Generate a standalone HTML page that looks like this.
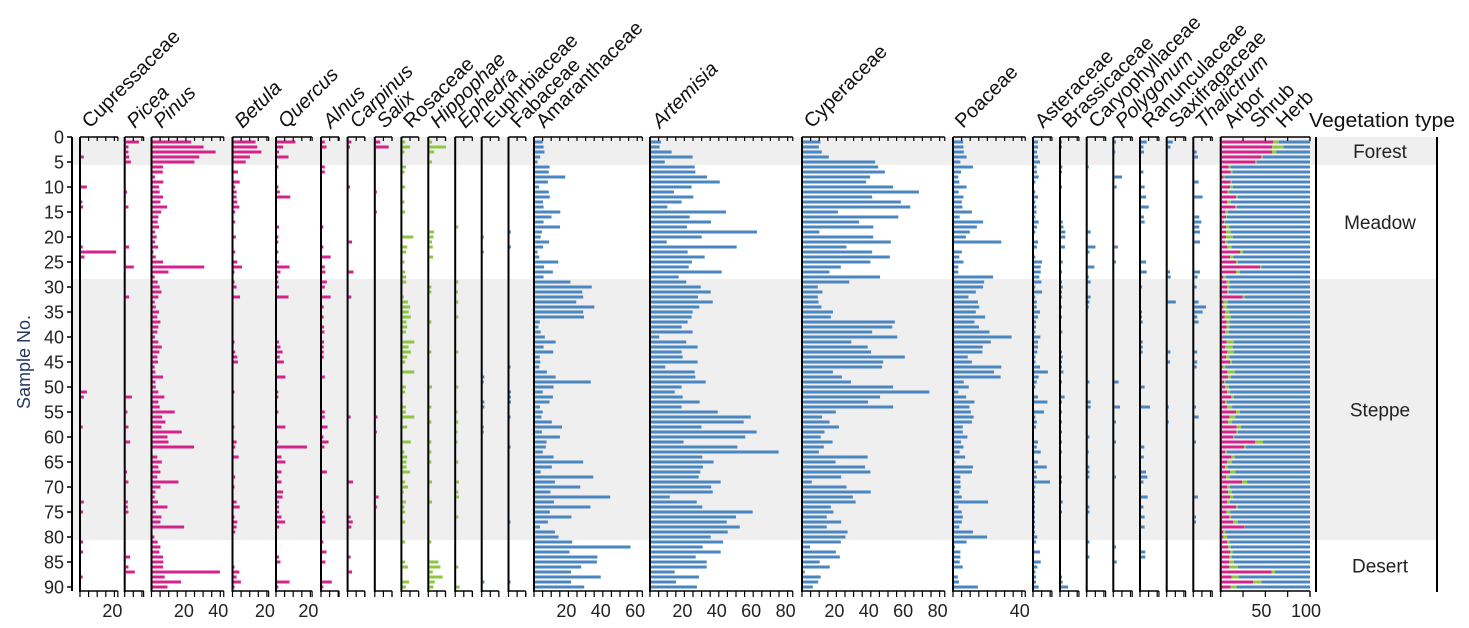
<!DOCTYPE html>
<html><head><meta charset="utf-8"><style>
html,body{margin:0;padding:0;background:#fff;}
svg{display:block;font-family:"Liberation Sans",Arial,sans-serif;}
</style></head><body>
<svg id="chart" width="1469" height="628" viewBox="0 0 1469 628" xmlns="http://www.w3.org/2000/svg">
<g id="bands"></g><g id="marks"></g><g id="axes"></g><g id="labels"></g>
</svg>
<script>
// ---- data (percentages per sample, sample index 0..89) ----
const sampleTicks=[0,5,10,15,20,25,30,35,40,45,50,55,60,65,70,75,80,85,90];
const zoneNames=["Forest","Meadow","Steppe","Desert"];
const zoneStart=[0,5.6,28.4,80.6];
const zoneEnd=[5.6,28.4,80.6,91];
const pinus=[22.5,29.7,36.7,27.2,24.4,6.1,6,1.5,6.3,3.8,4.2,6.1,4.6,8.5,5,3.4,3,3.8,1.5,2.4,1.5,3.2,0.5,1.9,6.1,30.1,9.3,1.3,3,4.2,5.2,3.4,1.3,1.9,3.8,2.8,4.6,3.4,2.8,1.5,3.4,5.4,4,2.8,3.2,1.3,1.7,6.1,1.7,1.9,3.4,6.9,3.4,4.2,12.9,5.6,7.5,5.2,17,8.7,9.3,24.2,0,2.8,5.4,3.4,4.6,2.8,15.1,4.6,1.7,1.3,3.2,8.7,1.9,5.2,4.6,18.4,0,1.1,3,4.6,4,6.1,6.3,6.1,39.2,7.1,16.6,8.7];
const amaranthaceae=[4.5,5,5.5,3,1.5,8.5,8,17.6,7.5,2.4,8,8.6,4.7,5,14.7,9.6,5,14.5,4,3.3,8.2,4.7,1.5,2.5,13.5,5.3,10.4,5,20.6,33,27.5,28,24,34.5,28,28.5,2.8,2,3.3,5.7,12,5,10.6,2.8,3.1,2.5,6.9,12,32.4,10.8,4.5,10.4,8.4,2.9,4.5,3.7,9.8,15.7,4,14.5,6.7,6.3,4.5,10.8,28,9.8,3.3,33.9,11.6,26.3,9,43.7,11,32.2,8.6,21.2,7.5,2.9,11.6,13.7,21.6,55.5,20,36.3,36,26.9,21,38.2,21,28.6];
const artemisia=[5.8,5,12,24.2,8,25.4,25.8,32.6,40,23.6,13.4,24.6,17.8,9.5,43.6,22.5,34.9,20.9,61.6,29.5,9.1,49.8,21.3,31.2,23.8,21.9,41.1,16.1,20.5,28.9,34.7,27.3,35.9,28.1,24.2,23.6,21.3,17.8,24.2,4.8,20.5,27.1,17.8,18.4,27.1,8.3,25.4,25.8,31.8,17.8,13.8,18.4,28.3,17.8,38.8,58,53.9,29.3,61.4,54.8,18.9,50.2,74.2,29.8,36.4,30.2,28.7,27.7,40.5,35,35.9,10.9,26.6,29.8,59.1,49.4,44,51.6,44.6,34.7,41.9,30,40.5,26,32.4,32.4,13.8,27.9,14.5,26.7];
const cyperaceae=[10.1,9.2,10.9,15,41.9,43.7,47.6,39,36.7,52.4,67.4,40.2,56.9,62.4,20.3,55.4,32.6,40.9,9.5,40.8,51.1,25.3,40.2,50.5,39.2,22,15.4,44.8,26.9,8.6,11.3,8.6,9,10.7,17.4,16.2,53.4,51.9,40.2,54.8,28.1,37.6,39.6,59.2,46.6,46,17.4,22.6,27.9,52.4,73.5,44.8,37.8,52.4,19.1,11.1,15.4,20.9,12.5,10.3,17.2,12.1,9.2,37.6,18.9,36.1,39.2,22.2,5.1,25.3,39.4,29,30.6,16.2,17.7,13.8,22.2,13.8,25.9,24.7,22,4.1,19.1,21.4,9.7,15.6,1,10.3,8.8,5.7];
const poaceae=[5.3,5.5,5.7,7.3,3.7,11,4.1,2.5,3.1,7.3,2.7,5.5,4.5,4.9,10.4,3.3,16.9,13.3,9.2,6.9,27.5,0,4.5,3.1,5.5,2.5,2.5,22.7,17.5,16.9,12.7,8.4,13.9,14.7,12.7,18.1,11.9,14.5,20.6,33.5,21.4,16.7,16.5,8,10.4,27.5,23.3,27.1,5.7,8.6,2.5,7.1,11.9,9,9.8,11.4,10.4,5.1,5.1,7.8,4.1,5.5,3.3,6.5,0.8,11,10.4,3.7,3.7,3.9,3.1,4.5,19.8,2.5,4.5,5.1,4.5,3.1,11,19.2,7.3,0.6,3.7,3.7,3.3,5.1,0,2.2,2.9,13.9];
const arbor=[57.8,56.3,56.3,44.4,37.7,7.8,10,2.2,10,9.3,6.7,16,6.3,15.3,4.1,4.9,2.6,4.9,4.9,4.9,4.1,6.3,20.5,9.3,16,42.9,16,1.9,5.6,6.3,6.3,23.5,2.2,1.9,4.1,3.4,5.6,5.6,4.1,1.1,5.6,4.1,6.3,4.9,9.3,1.1,6.3,7.1,2.6,3.7,6,10.8,3.7,6,16,8.6,7.1,16.8,16.4,13,37.3,25,3.7,10.8,6,3.7,9.3,4.9,22.8,6.3,7.1,9.3,6,16,5.2,8.6,13,25.7,1.9,1.9,6,7.1,9.7,8.6,8.6,8.6,56,11.2,35.4,10];
const shrub=[6,13,5,1.5,1.5,2.2,2.2,1,1.5,3,1.5,2.2,3.7,1.5,3,0.7,0.7,3.7,5.2,7.5,2.2,4.9,3,3.7,2.2,1.5,4.5,3,3,2.2,1.5,2.2,4.5,3.7,4.5,6.7,3,3,3.7,0,7.8,8.2,7.5,3.7,2.2,3,8.2,3,1.5,4.1,3.4,3,2.2,5.6,4.5,6.7,4.5,4.9,1.9,1.1,9,1.9,1.9,3.7,5.6,3,6,4.1,5.6,3,4.1,3.4,3,1.9,4.5,1.9,5.2,0.4,2.2,4.1,2.6,3,2.6,2.6,4.9,9.7,3.7,7.8,9,6.7];
const cupressaceae={3:1.6,9:3.4,12:0.8,13:1.2,21:1,22:20.4,23:2,50:3.4,51:1.6,57:1,72:1.6,74:1.2,80:1.2,82:1.2,87:1};
const picea={0:7.7,1:1.6,2:1.6,3:2,4:3,10:0.8,13:1.6,21:2,25:4.7,31:2,51:3.6,54:1,57:1.6,60:2.6,66:0.8,68:1.6,72:1.2,73:1.2,74:1.6,83:2.6,85:1.6,86:5.3};
const betula={0:12.8,1:13.8,2:16.2,3:9.5,4:7.1,6:2.6,8:3.6,9:1,10:1.8,11:1.8,12:2.2,13:3.4,14:1,16:1,19:1.4,22:1,24:2.2,25:4.9,26:0.4,28:0.4,29:1.8,31:3.8,40:0.6,42:1,43:2.2,44:2.6,50:0.6,57:0.6,60:1.8,61:1,63:3,67:1,69:0.6,72:1.8,73:3.6,75:0.6,76:2.2,77:1.8,78:1,85:0.6,86:3.4,87:1.8,88:4.3,89:0.6};
const quercus={0:10.7,1:3.6,2:1.2,3:6.7,5:0.8,9:0.8,10:1.6,11:7.7,17:1.2,19:0.8,20:0.8,22:0.8,24:1.2,25:7.3,26:2,27:0.8,28:0.8,29:1.2,31:6.7,40:1.2,41:2,42:3.2,43:1.6,44:4,47:4.9,50:0.8,51:0.8,54:0.8,57:4.9,60:0.8,61:17.4,63:2.6,64:4.9,66:2.6,67:0.8,68:2.6,70:3.6,71:3.2,72:1.2,73:1.2,74:1.2,75:2.6,76:4.7,77:1.2,83:1.2,84:2,88:7.3,89:0.8};
const alnus={0:1.6,1:2.6,5:1.6,6:1.6,17:0.8,21:0.8,23:5,25:1.6,26:2,28:2.8,29:1.6,31:5,33:1,35:1,37:1.2,38:1.4,40:1.2,41:1,42:1,43:1,47:1.6,54:1.6,55:1.6,57:3.2,59:0.8,60:3.8,61:1.4,66:2.8,74:0.8,75:1.6,76:2,80:0.8,82:2.6,84:2,88:5.7,89:0.8};
const carpinus={0:1.6,1:0.8,9:0.8,20:2,26:2.8,31:1.6,55:1.2,68:2.6,75:1.2,76:2.4,77:1.6,83:1.2,86:2};
const salix={0:2.6,1:7.5,10:0.6,14:0.6,55:1,58:0.6,71:1.6,73:0.6};
const rosaceae={0:1.6,1:4.5,2:1.2,5:2,6:1.2,9:1.6,12:1.2,14:1.6,19:6.3,21:2.8,22:2.2,24:1.2,26:1.6,27:2.2,28:2.2,31:0.8,32:3.2,33:4.5,34:3.6,35:4.9,36:2.4,37:2.8,38:2,40:6.9,41:3.6,42:4.9,43:2.8,44:1.6,46:6.9,49:2,50:1.6,53:2,54:2,55:6.9,57:2.8,60:4.9,62:1.2,63:2.8,64:2.4,65:2.4,66:4.5,68:1.6,69:3.2,70:0.8,72:2,73:1.2,74:1.6,76:1.6,80:1.6,84:1.6,85:3.2,88:3.8,89:2};
const hippophae={0:1.6,1:9.7,2:2.8,4:1.6,18:2.8,19:2.4,20:1.6,21:2,23:2.2,29:1.2,30:1.2,36:1.2,42:1.2,49:1.6,53:1.2,56:1.2,60:1.2,62:1.2,64:1.2,68:1.6,72:1.6,80:1.2,84:5.3,85:6.5,86:2,87:7.7,88:3.2,89:2.4};
const ephedra={17:1.2,28:1.2,30:1,32:1.2,35:1.2,42:1.2,49:1.2,54:0.8,56:1.2,58:0.8,60:0.8,64:1.2,68:1.6,70:1.2,71:1.6,75:1.2,85:1.2,89:2};
const euphrbiaceae={19:0.6,22:0.6,47:1,48:0.6,52:1,53:1,57:0.6,58:0.6,88:1};
const fabaceae={18:0.8,21:0.8,45:0.6,50:0.8,51:0.8,52:0.8,55:0.4,61:0.4,76:0.4,88:0.4};
const asteraceae={0:2.3,1:2.3,2:1.7,3:2.3,4:3.5,5:1.5,6:1.7,7:2.7,8:0.8,10:0.8,11:2.3,12:0.8,13:1.4,14:1.4,15:0.8,16:2.7,17:1.7,18:0.8,20:2.3,21:1.7,23:0.8,24:4.7,25:3.9,26:3.9,27:3.1,28:4.3,29:0.8,30:4.7,31:0.8,32:1.6,33:1.6,34:3.5,35:2.3,36:1.2,37:1.2,38:0.8,39:3.7,40:2.3,41:2.3,42:1.9,43:0.8,44:0.8,45:3.5,46:8.1,47:2.7,48:1.6,49:0.8,51:2.3,52:7.8,54:5.8,55:0.8,56:1.6,57:1.2,60:2.3,61:1.6,62:3.9,64:2.3,65:7.4,66:1.2,67:1.6,68:9.3,69:0.8,70:0.4,71:0.4,72:0.4,73:0.4,74:0.4,75:0.4,76:0.4,77:0.4,78:0.4,79:1.9,80:1.2,82:3.5,84:3.9,85:1.9,86:0.8,87:1.2,88:1.2,89:2.7};
const brassicaceae={0:0.6,1:0.6,5:0.8,6:0.6,9:0.6,16:1,17:1.4,18:2.5,19:2.5,21:2.3,24:1,26:0.6,28:0.6,29:1,30:0.6,31:0.6,33:0.6,35:0.6,38:0.8,42:0.6,43:1,44:0.6,45:0.6,46:1.4,48:0.6,51:2.1,52:0.6,54:0.6,56:0.6,58:0.6,60:0.6,62:0.6,67:0.6,68:0.6,72:1,74:0.6,87:0.6,88:1,89:4.1};
const caryophyllaceae={5:0.6,18:1.7,21:4.5,22:1,25:3.9,27:0.6,28:1.7,31:1.7,32:1,33:0.6,48:1,52:1.7,53:1.7,59:1,62:0.6,65:1,66:1,67:1,73:1,74:1,80:1,83:1};
const polygonum={0:1,2:0.6,7:4.5,9:1.4,21:2.1,24:1,48:2.5,53:3.3,56:1,60:1,67:1,81:1,84:1.4};
const ranunculaceae={0:3.3,1:1.4,2:1.7,6:1.4,9:2.1,11:2.9,13:4.5,15:1.7,16:2.1,24:2.9,26:3.3,29:0.6,34:0.6,35:0.6,36:1,40:1,41:1,42:1,49:2.1,53:5.2,61:1.9,63:1.6,66:2.9,67:3.7,68:1.4,71:3.9,73:1.4,75:2.1,77:2.1,82:2.5,83:2.5};
const saxifragaceae={0:2.9,1:1.6,26:1.4,27:1.7,32:4.7,42:1.6,44:1.4,53:0.6,56:0.6};
const thalictrum={2:1.4,3:2.1,8:2.5,11:4.8,15:2.9,16:4.1,17:2.9,18:3.3,20:3.3,26:3.3,27:1.9,29:1.4,32:2.5,33:6.8,34:4.8,35:1.7,36:2.5,42:1.7,44:1.7,45:1.4,53:1,55:2.5,60:1,71:2.1,75:1,76:1};
const nSamples=90;

// ---- layout ----
const NS="http://www.w3.org/2000/svg";
const PINK="#d4238b",BLUE="#4a86bf",GREEN="#8dc73f";
const Y0=137,Y1=591,S=1.72;
const HFS=20, TFS=18;
function yRow(k){return 142+5*k;}
function ySample(v){return 137+5*v;}
function mk(tag,attrs,parent){const e=document.createElementNS(NS,tag);for(const a in attrs)e.setAttribute(a,attrs[a]);parent.appendChild(e);return e;}
function toArr(d){if(Array.isArray(d))return d;const a=new Array(nSamples).fill(0);for(const k in d)a[+k]=d[k];return a;}
const cols=[
["Cupressaceae",80,22,PINK,cupressaceae,false,[20]],
["Picea",124.7,11,PINK,picea,true,[]],
["Pinus",151.5,42,PINK,pinus,true,[20,40]],
["Betula",232.5,21,PINK,betula,true,[20]],
["Quercus",276,21,PINK,quercus,true,[20]],
["Alnus",321,10.5,PINK,alnus,true,[]],
["Carpinus",347.6,10,PINK,carpinus,true,[]],
["Salix",374.8,10,PINK,salix,true,[]],
["Rosaceae",401.4,10,GREEN,rosaceae,false,[]],
["Hippophae",428.3,10,GREEN,hippophae,true,[]],
["Ephedra",455.2,10,GREEN,ephedra,true,[]],
["Euphrbiaceae",481.7,10,BLUE,euphrbiaceae,false,[]],
["Fabaceae",508.5,10,BLUE,fabaceae,false,[]],
["Amaranthaceae",534,63,BLUE,amaranthaceae,false,[20,40,60]],
["Artemisia",650,83,BLUE,artemisia,true,[20,40,60,80]],
["Cyperaceae",802,83,BLUE,cyperaceae,false,[20,40,60,80]],
["Poaceae",953,42,BLUE,poaceae,false,[40]],
["Asteraceae",1033,11,BLUE,asteraceae,false,[]],
["Brassicaceae",1060,11,BLUE,brassicaceae,false,[]],
["Caryophyllaceae",1086.7,11,BLUE,caryophyllaceae,false,[]],
["Polygonum",1113.3,11,BLUE,polygonum,true,[]],
["Ranunculaceae",1140,11,BLUE,ranunculaceae,false,[]],
["Saxifragaceae",1166.7,11,BLUE,saxifragaceae,false,[]],
["Thalictrum",1193.3,11,BLUE,thalictrum,true,[]]
];
const bands=document.getElementById('bands'),marks=document.getElementById('marks'),axes=document.getElementById('axes'),labels=document.getElementById('labels');

zoneNames.forEach((z,i)=>{
  if(i===0||i===2){
    const r=mk('rect',{x:72,y:ySample(zoneStart[i]),width:1365,height:ySample(Math.min(zoneEnd[i],90.7))-ySample(zoneStart[i]),fill:"#efefef"},bands);
    
    
  }
  const t=mk('text',{x:1380,y:ySample((zoneStart[i]+Math.min(zoneEnd[i],90.7))/2)+7,'font-size':19,'text-anchor':'middle',fill:"#222"},labels);
  t.textContent=z;
  
  
});

const ya=mk('line',{x1:72,y1:Y0,x2:72,y2:Y1,stroke:"#000","stroke-width":2},axes);


sampleTicks.forEach(v=>{
  mk('line',{x1:67,y1:ySample(v),x2:72,y2:ySample(v),stroke:"#000","stroke-width":1.5},axes);
  const t=mk('text',{x:64,y:ySample(v)+6.5,'font-size':TFS,'text-anchor':'end',fill:"#222"},labels);
  t.textContent=v;
  
  
});
const yt=mk('text',{x:0,y:0,'font-size':18,'text-anchor':'middle',fill:"#24375f",transform:"translate(30,362) rotate(-90)"},labels);
yt.textContent="Sample No.";



function drawAxis(x0,ext,step,name,tickLabels){
  const g=mk('g',{},axes);
  
  
  const x1=x0+ext*S;
  mk('line',{x1:x0,y1:Y0,x2:x0,y2:Y1+1,stroke:"#000","stroke-width":2},g);
  mk('line',{x1:x0,y1:Y0,x2:x1,y2:Y0,stroke:"#000","stroke-width":1.5},g);
  mk('line',{x1:x0,y1:Y1,x2:x1,y2:Y1,stroke:"#000","stroke-width":1.5},g);
  for(let v=0;v<=ext+0.01;v+=step){
    const x=x0+v*S;
    mk('line',{x1:x,y1:Y0,x2:x,y2:Y0+4,stroke:"#000","stroke-width":1.2},g);
    mk('line',{x1:x,y1:Y1,x2:x,y2:Y1+6,stroke:"#000","stroke-width":1.2},g);
  }
  mk('line',{x1:x1,y1:Y0,x2:x1,y2:Y0+4,stroke:"#000","stroke-width":1.2},g);
  mk('line',{x1:x1,y1:Y1,x2:x1,y2:Y1+6,stroke:"#000","stroke-width":1.2},g);
  tickLabels.forEach(v=>{
    const t=mk('text',{x:x0+v*S-2,y:617,'font-size':TFS,'text-anchor':'middle',fill:"#222"},labels);
    t.textContent=v;
    
    
  });
}

cols.forEach(c=>{
  const [name,x0,ext,color,data,ital,tl]=c;
  const key=name.toLowerCase();
  drawAxis(x0,ext,5,key,tl);
  const vals=toArr(data);
  vals.forEach((v,k)=>{
    if(!v)return;
    const r=mk('rect',{x:x0+1,y:yRow(k)-1.5,width:Math.max(v*S,1),height:3,fill:color},marks);
    
    
  });
  const t=mk('text',{x:0,y:0,'font-size':HFS,fill:"#111",'font-style':ital?'italic':'normal',transform:`translate(${x0+10},129) rotate(-45)`},labels);
  t.textContent=name;
  
  
});

const VX=1220.7,VS=0.893;
drawAxis(VX,100/S*VS,25/S*VS,'vegetation',[]);
[50,100].forEach(v=>{
  const t=mk('text',{x:VX+v*VS-4,y:617,'font-size':TFS,'text-anchor':'middle',fill:"#222"},labels);
  t.textContent=v;
  
  
});
for(let k=0;k<nSamples;k++){
  const a=arbor[k],s=shrub[k],h=100-a-s;
  const ra=mk('rect',{x:VX+1,y:yRow(k)-1.5,width:a*VS,height:3,fill:PINK},marks);
  
  
  const rs=mk('rect',{x:VX+1+a*VS,y:yRow(k)-1.5,width:s*VS,height:3,fill:GREEN},marks);
  
  
  const rh=mk('rect',{x:VX+1+(a+s)*VS,y:yRow(k)-1.5,width:h*VS-1,height:3,fill:BLUE},marks);
  
  
}
[["Arbor",1222],["Shrub",1248],["Herb",1274]].forEach(([n,x])=>{
  const t=mk('text',{x:0,y:0,'font-size':HFS,fill:"#111",transform:`translate(${x+10},129) rotate(-45)`},labels);
  t.textContent=n;
  
  
});
const vt=mk('text',{x:1309,y:127,'font-size':20,fill:"#111",textLength:146,lengthAdjust:"spacingAndGlyphs"},labels);
vt.textContent="Vegetation type";


[1316,1437].forEach(x=>{
  const l=mk('line',{x1:x,y1:Y0,x2:x,y2:Y1+1,stroke:"#000","stroke-width":2},axes);
  
  
});
</script>
</body></html>
